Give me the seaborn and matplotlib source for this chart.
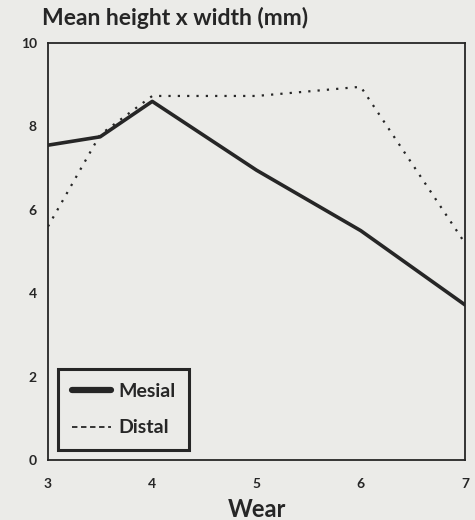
import matplotlib
matplotlib.use("Agg")
import matplotlib.pyplot as plt
import seaborn as sns
import pandas as pd
from matplotlib.lines import Line2D

wear = [3, 3.5, 4, 5, 6, 7]
mesial = [7.55, 7.75, 8.6, 6.95, 5.5, 3.72]
distal = [5.6, 7.8, 8.73, 8.73, 8.95, 5.2]
x_ticks = [3, 4, 5, 6, 7]
y_ticks = [0, 2, 4, 6, 8, 10]

df = pd.DataFrame({
    "Wear": wear * 2,
    "value": mesial + distal,
    "series": ["Mesial"] * len(wear) + ["Distal"] * len(wear),
})

sns.set_style("white")
plt.rcParams["font.family"] = ["Lato", "DejaVu Sans"]
bg = "#ebebe8"
ink = "#262626"

fig = plt.figure(figsize=(4.75, 5.2), dpi=100, facecolor=bg)
ax = fig.add_axes([48 / 475, 60 / 520, 417 / 475, 417 / 520])
ax.set_facecolor(bg)

sns.lineplot(data=df[df.series == "Mesial"], x="Wear", y="value", ax=ax,
             color=ink, linewidth=2.6, legend=False)
sns.lineplot(data=df[df.series == "Distal"], x="Wear", y="value", ax=ax,
             color=ink, linewidth=1.6, linestyle=(0, (1, 3.2)), legend=False)

ax.set_xlim(3, 7)
ax.set_ylim(0, 10)
ax.set_xticks(x_ticks)
ax.set_yticks(y_ticks)
ax.set_xticklabels([str(t) for t in x_ticks], fontsize=10, fontweight="bold", color=ink)
ax.set_yticklabels([str(t) for t in y_ticks], fontsize=10, fontweight="bold", color=ink)
ax.tick_params(axis="both", direction="out", length=5, width=1.2, color=ink, pad=3)
ax.tick_params(axis="x", pad=8)
for s in ax.spines.values():
    s.set_color(ink)
    s.set_linewidth(1.3)

ax.set_xlabel("Wear", fontsize=17, fontweight="bold", color=ink, labelpad=6)
ax.set_ylabel("")
fig.text(42 / 475, 1 - 18 / 520, "Mean height x width (mm)", fontsize=16.5,
         fontweight="bold", color=ink, va="center", ha="left")

handles = [Line2D([0], [0], color=ink, lw=4.5),
           Line2D([0], [0], color=ink, lw=1.3, linestyle=(0, (3, 2)))]
leg = ax.legend(handles, ["Mesial", "Distal"], loc="lower left",
                bbox_to_anchor=(0.024, 0.024),
                prop={"size": 14, "weight": "bold"}, frameon=True,
                fancybox=False, handlelength=2.0, handletextpad=0.4,
                borderpad=0.7, labelspacing=1.0, borderaxespad=0)
leg.get_frame().set_edgecolor(ink)
leg.get_frame().set_linewidth(2.2)
leg.get_frame().set_facecolor(bg)
leg.get_frame().set_alpha(1)
for t in leg.get_texts():
    t.set_color(ink)

fig.savefig("out.png", dpi=100, facecolor=bg)
